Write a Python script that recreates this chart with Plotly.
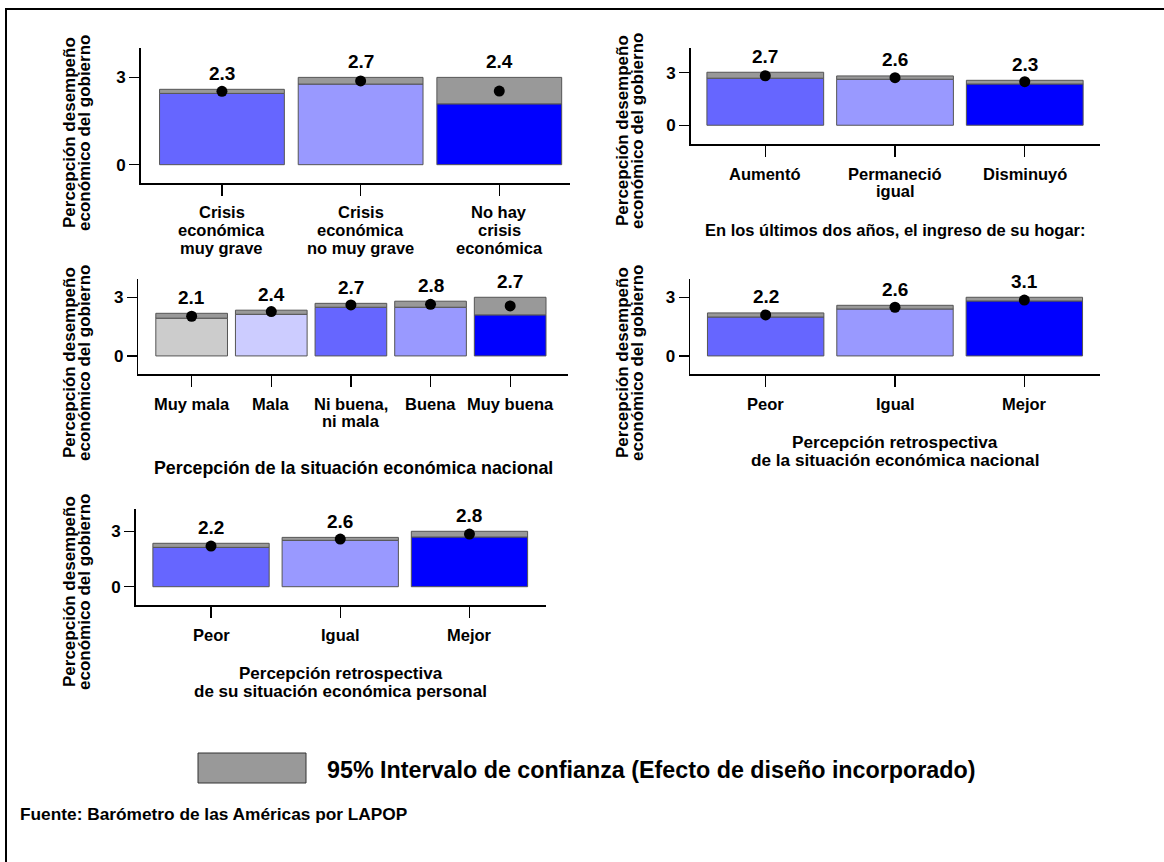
import plotly.graph_objects as go

W, H = 1164, 862
FONT = "Liberation Sans"

# ---------------- data ----------------
p1_cats = ["Crisis<br>económica<br>muy grave", "Crisis<br>económica<br>no muy grave", "No hay<br>crisis<br>económica"]
p1_lower = [2.45, 2.77, 2.09]
p1_upper = [2.59, 3.00, 3.00]
p1_mean = [2.52, 2.88, 2.53]
p1_labels = ["2.3", "2.7", "2.4"]
p1_colors = ["#6666FF", "#9999FF", "#0000FF"]

p2_cats = ["Aumentó", "Permaneció<br>igual", "Disminuyó"]
p2_lower = [2.69, 2.63, 2.36]
p2_upper = [3.03, 2.82, 2.57]
p2_mean = [2.83, 2.72, 2.49]
p2_labels = ["2.7", "2.6", "2.3"]
p2_colors = ["#6666FF", "#9999FF", "#0000FF"]
p2_title = ["En los últimos dos años, el ingreso de su hogar:"]

p3_cats = ["Muy mala", "Mala", "Ni buena,<br>ni mala", "Buena", "Muy buena"]
p3_lower = [1.93, 2.13, 2.49, 2.49, 2.10]
p3_upper = [2.18, 2.34, 2.69, 2.80, 3.00]
p3_mean = [2.03, 2.27, 2.61, 2.64, 2.56]
p3_labels = ["2.1", "2.4", "2.7", "2.8", "2.7"]
p3_colors = ["#CCCCCC", "#CCCCFF", "#6666FF", "#9999FF", "#0000FF"]
p3_title = ["Percepción de la situación económica nacional"]

p4_cats = ["Peor", "Igual", "Mejor"]
p4_lower = [1.99, 2.40, 2.81]
p4_upper = [2.20, 2.59, 3.00]
p4_mean = [2.10, 2.49, 2.86]
p4_labels = ["2.2", "2.6", "3.1"]
p4_colors = ["#6666FF", "#9999FF", "#0000FF"]
p4_title = ["Percepción retrospectiva", "de la situación económica nacional"]

p5_cats = ["Peor", "Igual", "Mejor"]
p5_lower = [2.13, 2.51, 2.69]
p5_upper = [2.35, 2.67, 3.00]
p5_mean = [2.20, 2.58, 2.85]
p5_labels = ["2.2", "2.6", "2.8"]
p5_colors = ["#6666FF", "#9999FF", "#0000FF"]
p5_title = ["Percepción retrospectiva", "de su situación económica personal"]

y_title = ["Percepción desempeño", "económico del gobierno"]
y_ticks = [0, 3]
legend_text = "95% Intervalo de confianza (Efecto de diseño incorporado)"
source_text = "Fuente: Barómetro de las Américas por LAPOP"

# ---------------- layout helpers ----------------
def px(x):
    return x / W

def py(y):
    return 1 - y / H

panels = [
    # cats, lower, upper, mean, labels, colors, title, x-domain px, y-domain px, xrange, yrange,
    # title line y px, y-title center y px, tick label first line y px, title font size
    (p1_cats, p1_lower, p1_upper, p1_mean, p1_labels, p1_colors, [], (140.7, 570), (48.3, 183.3), (-0.586, 2.51), (-0.64, 4.0), [], 133, 212, 17),
    (p2_cats, p2_lower, p2_upper, p2_mean, p2_labels, p2_colors, p2_title, (690.7, 1100), (48.3, 144.3), (-0.575, 2.58), (-1.09, 4.4), [230], 131, 173.5, 16.5),
    (p3_cats, p3_lower, p3_upper, p3_mean, p3_labels, p3_colors, p3_title, (138.3, 568.3), (279.3, 374.3), (-0.67, 4.73), (-0.94, 3.92), [468], 363, 403.5, 17.8),
    (p4_cats, p4_lower, p4_upper, p4_mean, p4_labels, p4_colors, p4_title, (690, 1100), (279.3, 374.3), (-0.585, 2.585), (-0.94, 3.92), [442, 459.5], 363, 403.5, 17.2),
    (p5_cats, p5_lower, p5_upper, p5_mean, p5_labels, p5_colors, p5_title, (135.7, 545.7), (509.3, 605), (-0.583, 2.59), (-0.99, 4.19), [673, 691], 592, 634.5, 17),
]
ytitle_x = [(69, 84), (622, 637), (69, 84), (622, 637), (69, 84)]
LINE_STEP = 17.8

fig = go.Figure()
annotations = []
layout = {}
outline = dict(color="#555555", width=1)
bold = lambda s: dict(family=FONT, size=s, color="black", weight="bold")

for i, (cats, lo, up, mu, labs, cols, title, xd, yd, xr, yr, tys, ytc, tly, tfs) in enumerate(panels):
    n = i + 1
    xa = "x" if n == 1 else f"x{n}"
    ya = "y" if n == 1 else f"y{n}"
    xs = list(range(len(cats)))
    # colored bar from 0 to lower CI
    fig.add_trace(go.Bar(x=xs, y=lo, width=0.9, marker=dict(color=cols, line=outline),
                         xaxis=xa, yaxis=ya, showlegend=False, hoverinfo="skip"))
    # gray CI bar from lower to upper
    fig.add_trace(go.Bar(x=xs, y=[u - l for u, l in zip(up, lo)], base=lo, width=0.9,
                         marker=dict(color="#999999", line=outline),
                         xaxis=xa, yaxis=ya, showlegend=False, hoverinfo="skip"))
    # mean dots
    fig.add_trace(go.Scatter(x=xs, y=mu, mode="markers", marker=dict(color="black", size=11),
                             xaxis=xa, yaxis=ya, showlegend=False, hoverinfo="skip"))
    # value labels
    for x, u, t in zip(xs, up, labs):
        annotations.append(dict(x=x, y=u, xref=xa, yref=ya, text=t, showarrow=False,
                                yanchor="middle", yshift=16, font=bold(19)))
    # category labels, one annotation per line for tight line spacing
    for x, c in zip(xs, cats):
        for k, line in enumerate(c.split("<br>")):
            annotations.append(dict(x=x, y=py(tly + k * LINE_STEP), xref=xa, yref="paper",
                                    text=line, showarrow=False, xanchor="center",
                                    yanchor="middle", font=bold(16.5)))
    layout[("xaxis" if n == 1 else f"xaxis{n}")] = dict(
        domain=[px(xd[0]), px(xd[1])], range=list(xr), anchor=ya,
        tickvals=xs, showticklabels=False, showline=True, linecolor="black", linewidth=1.5,
        ticks="outside", ticklen=11, tickwidth=1.2, tickcolor="black", showgrid=False, zeroline=False,
        fixedrange=True)
    layout[("yaxis" if n == 1 else f"yaxis{n}")] = dict(
        domain=[py(yd[1]), py(yd[0])], range=list(yr), anchor=xa,
        tickvals=y_ticks, showline=True, linecolor="black", linewidth=1.5,
        ticks="outside", ticklen=10, tickwidth=1.2, tickcolor="black", showgrid=False, zeroline=False,
        tickfont=bold(17), fixedrange=True)
    # x titles
    cx = (xd[0] + xd[1]) / 2
    for line, ty in zip(title, tys):
        annotations.append(dict(x=px(cx), y=py(ty), xref="paper", yref="paper", text=line,
                                showarrow=False, xanchor="center", yanchor="middle", font=bold(tfs)))
    # y titles (two rotated lines)
    for line, tx in zip(y_title, ytitle_x[i]):
        annotations.append(dict(x=px(tx), y=py(ytc), xref="paper", yref="paper", text=line,
                                showarrow=False, textangle=-90, xanchor="center", yanchor="middle",
                                font=bold(17)))

# legend box + frame
shapes = [
    dict(type="rect", xref="paper", yref="paper", x0=px(198), x1=px(306), y0=py(783), y1=py(753),
         fillcolor="#999999", line=dict(color="#333333", width=1)),
    dict(type="line", xref="paper", yref="paper", x0=px(6), x1=px(6), y0=py(8), y1=0,
         line=dict(color="black", width=2)),
    dict(type="line", xref="paper", yref="paper", x0=px(6), x1=1, y0=py(9), y1=py(9),
         line=dict(color="black", width=2)),
]
annotations.append(dict(x=px(325), y=py(770), xref="paper", yref="paper", text=legend_text,
                        showarrow=False, xanchor="left", yanchor="middle", font=bold(23.3)))
annotations.append(dict(x=px(18), y=py(814), xref="paper", yref="paper", text=source_text,
                        showarrow=False, xanchor="left", yanchor="middle", font=bold(17.3)))

fig.update_layout(
    width=W, height=H, margin=dict(l=0, r=0, t=0, b=0),
    paper_bgcolor="white", plot_bgcolor="white",
    barmode="overlay", annotations=annotations, shapes=shapes,
    font=dict(family=FONT, color="black"),
    **layout,
)

fig.write_html("out.html", config={"displayModeBar": False, "staticPlot": True},
               post_script="document.body.style.margin='0';document.body.style.overflow='hidden';")
